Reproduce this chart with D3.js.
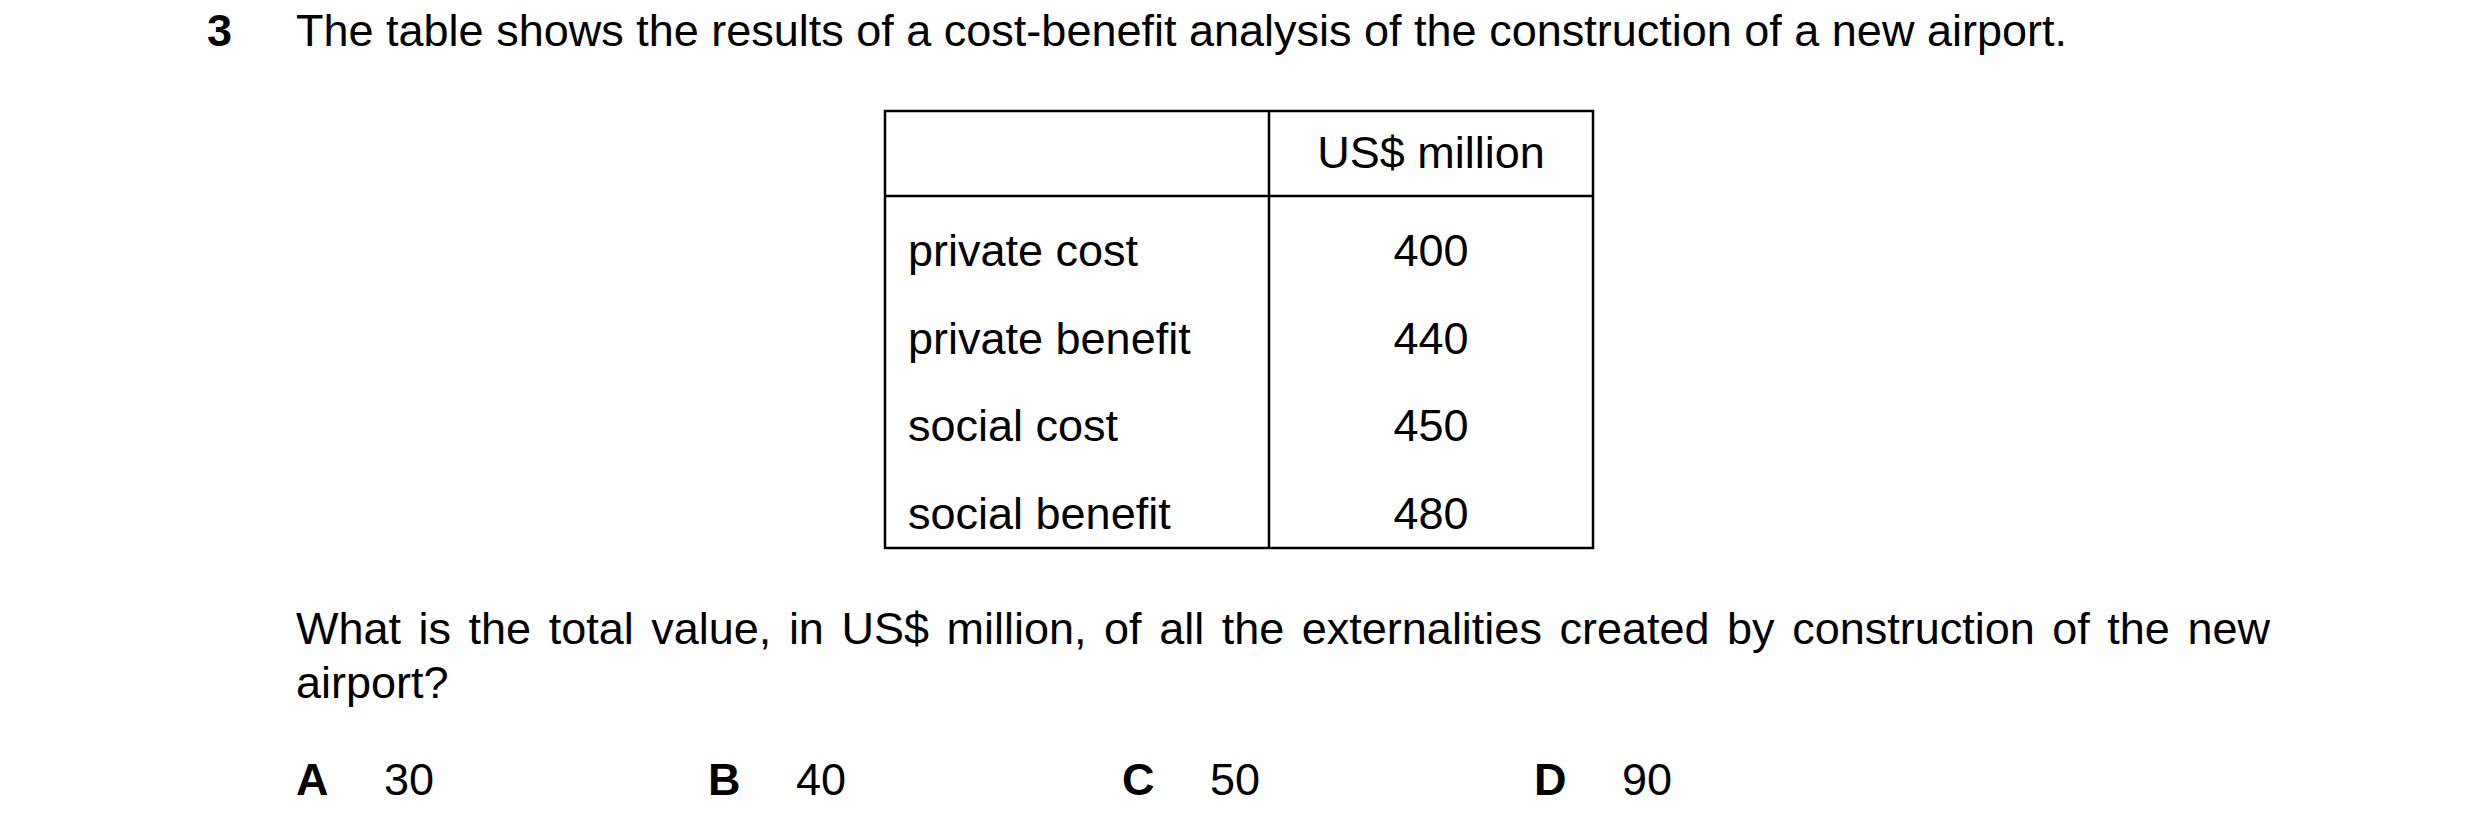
<!DOCTYPE html><html><head><meta charset="utf-8"><script src="https://cdn.jsdelivr.net/npm/d3@7"></script>
<style>body{margin:0;background:#fff}text{font-family:"Liberation Sans",Arial,sans-serif;fill:#000}</style></head><body>
<svg id="c" width="2480" height="834"></svg>
<script>
const questionNumber="3";
const title="The table shows the results of a cost-benefit analysis of the construction of a new airport.";
const header="US$ million";
const categories=["private cost","private benefit","social cost","social benefit"];
const values=[400,440,450,480];
const questionLine1="What is the total value, in US$ million, of all the externalities created by construction of the new";
const questionLine2="airport?";
const optionLetters=["A","B","C","D"];
const optionValues=[30,40,50,90];

const svg=d3.select("#c");
const fs=45;
svg.append("text").attr("x",207).attr("y",46).attr("font-size",fs).attr("font-weight","bold").text(questionNumber);
svg.append("text").attr("x",296).attr("y",46).attr("font-size",fs).text(title);

const L=885,M=1269,R=1593,T=111,H=196,B=548;
const g=svg.append("g").attr("stroke","#000").attr("stroke-width",2.5).attr("fill","none");
g.append("rect").attr("x",L).attr("y",T).attr("width",R-L).attr("height",B-T);
g.append("line").attr("x1",M).attr("x2",M).attr("y1",T).attr("y2",B);
g.append("line").attr("x1",L).attr("x2",R).attr("y1",H).attr("y2",H);
svg.append("text").attr("x",(M+R)/2).attr("y",168).attr("text-anchor","middle").attr("font-size",fs).text(header);
const y=d3.scalePoint().domain(categories).range([266,529]);
categories.forEach((c,i)=>{
  svg.append("text").attr("x",908).attr("y",y(c)).attr("font-size",fs).text(c);
  svg.append("text").attr("x",(M+R)/2).attr("y",y(c)).attr("text-anchor","middle").attr("font-size",fs).text(values[i]);
});
const words=questionLine1.split(" ");
const x0=296,x1=2270;
const ws=words.map(w=>{const t=svg.append("text").attr("y",644).attr("font-size",fs).text(w);return [t,t.node().getComputedTextLength()];});
const tot=d3.sum(ws,d=>d[1]);const gap=(x1-x0-tot)/(words.length-1);
let cx=x0;ws.forEach(([t,w])=>{t.attr("x",cx);cx+=w+gap;});
svg.append("text").attr("x",296).attr("y",698).attr("font-size",fs).text(questionLine2);
const ox=[296,708,1122,1534];
optionLetters.forEach((l,i)=>{
  svg.append("text").attr("x",ox[i]).attr("y",795).attr("font-size",fs).attr("font-weight","bold").text(l);
  svg.append("text").attr("x",ox[i]+88).attr("y",795).attr("font-size",fs).text(optionValues[i]);
});
</script></body></html>
